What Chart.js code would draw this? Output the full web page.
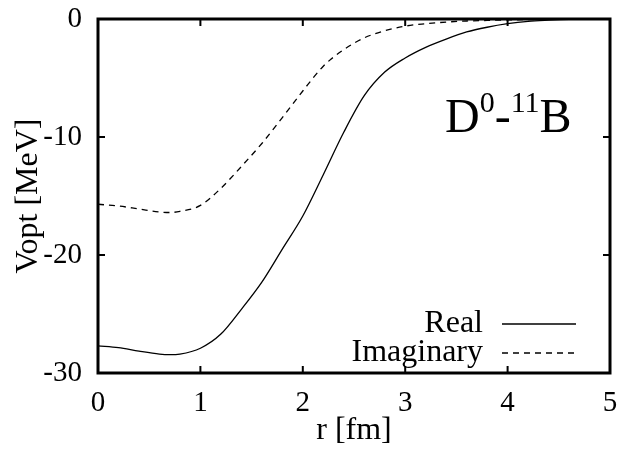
<!DOCTYPE html>
<html>
<head>
<meta charset="utf-8">
<script src="https://cdn.jsdelivr.net/npm/chart.js@4/dist/chart.umd.min.js"></script>
<style>
  html, body { margin: 0; padding: 0; background: #fff; overflow: hidden; }
</style>
</head>
<body>
<canvas id="vopt" width="618" height="452"></canvas>
<script>
"use strict";
// r [fm]
const radius = [0, 0.2, 0.4, 0.6, 0.7, 0.8, 1.0, 1.2, 1.4, 1.6, 1.8, 2.0, 2.2, 2.4, 2.6, 2.8, 3.0, 3.2, 3.4, 3.6, 3.8, 4.0, 4.2, 4.4, 4.6, 5.0];
const realPart = [-27.7, -27.85, -28.15, -28.4, -28.45, -28.4, -27.9, -26.7, -24.6, -22.3, -19.5, -16.7, -13.2, -9.6, -6.5, -4.5, -3.3, -2.4, -1.7, -1.1, -0.7, -0.4, -0.2, -0.1, -0.03, 0];
const imagPart = [-15.7, -15.85, -16.1, -16.35, -16.4, -16.3, -15.8, -14.35, -12.5, -10.55, -8.35, -6.1, -4.0, -2.6, -1.6, -1.0, -0.6, -0.4, -0.26, -0.17, -0.12, -0.08, -0.05, -0.03, -0.01, 0];
const seriesNames = ['Real', 'Imaginary'];
const xTicks = [0, 1, 2, 3, 4, 5];
const yTicks = [-30, -20, -10, 0];

const serif = '"Liberation Serif", "Times New Roman", serif';

function toPoints(values) {
    return radius.map((r, i) => ({ x: r, y: values[i] }));
}

// gnuplot style frame, inward ticks, legend and label
const framePlugin = {
    id: 'frame',
    afterDatasetsDraw(chart) {
        const ctx = chart.ctx;
        const area = chart.chartArea;
        const xs = chart.scales.x;
        const ys = chart.scales.y;
        ctx.save();
        ctx.strokeStyle = '#000';
        ctx.lineWidth = 3;
        ctx.strokeRect(area.left, area.top, area.right - area.left, area.bottom - area.top);
        ctx.lineWidth = 2;
        const tick = 7;
        ctx.beginPath();
        xTicks.forEach((v) => {
            const px = xs.getPixelForValue(v);
            ctx.moveTo(px, area.bottom);
            ctx.lineTo(px, area.bottom - tick);
            ctx.moveTo(px, area.top);
            ctx.lineTo(px, area.top + tick);
        });
        yTicks.forEach((v) => {
            const py = ys.getPixelForValue(v);
            ctx.moveTo(area.left, py);
            ctx.lineTo(area.left + tick, py);
            ctx.moveTo(area.right, py);
            ctx.lineTo(area.right - tick, py);
        });
        ctx.stroke();

        // legend
        ctx.font = '32px ' + serif;
        ctx.fillStyle = '#000';
        ctx.textAlign = 'right';
        ctx.textBaseline = 'middle';
        const legX = area.right - 127;
        const rows = [area.bottom - 49, area.bottom - 20];
        chart.data.datasets.forEach((ds, i) => {
            ctx.fillText(ds.label, legX, rows[i]);
            ctx.beginPath();
            ctx.lineWidth = 1.3;
            ctx.setLineDash(ds.borderDash || []);
            ctx.moveTo(legX + 19, rows[i]);
            ctx.lineTo(legX + 93, rows[i]);
            ctx.stroke();
        });
        ctx.setLineDash([]);

        // D0-11B label
        ctx.textAlign = 'left';
        ctx.textBaseline = 'alphabetic';
        let x = 445;
        const base = 132;
        const parts = [['D', 48, 0], ['0', 30, -20], ['-', 48, 0], ['11', 30, -20], ['B', 48, 0]];
        parts.forEach((p) => {
            ctx.font = p[1] + 'px ' + serif;
            ctx.fillText(p[0], x, base + p[2]);
            x += ctx.measureText(p[0]).width;
        });
        ctx.restore();
    }
};

const chart = new Chart(document.getElementById('vopt'), {
    type: 'line',
    data: {
        datasets: [
            {
                label: seriesNames[0],
                data: toPoints(realPart),
                borderColor: '#000',
                borderWidth: 1.3,
                pointRadius: 0,
                cubicInterpolationMode: 'monotone',
                fill: false
            },
            {
                label: seriesNames[1],
                data: toPoints(imagPart),
                borderColor: '#000',
                borderWidth: 1.3,
                borderDash: [6, 5],
                pointRadius: 0,
                cubicInterpolationMode: 'monotone',
                fill: false
            }
        ]
    },
    options: {
        responsive: false,
        animation: false,
        layout: { padding: { top: 19, right: 8, left: 0, bottom: 0 } },
        plugins: { legend: { display: false }, tooltip: { enabled: false } },
        scales: {
            x: {
                type: 'linear',
                min: 0,
                max: 5,
                afterBuildTicks(scale) { scale.ticks = xTicks.map(v => ({ value: v })); },
                afterFit(scale) { scale.height = 79; scale.paddingLeft = 0; scale.paddingRight = 0; },
                grid: { display: false, drawTicks: false },
                border: { display: false },
                ticks: { color: '#000', padding: 13, font: { family: serif, size: 29 } },
                title: { display: true, text: 'r [fm]', color: '#000', padding: { top: 0, bottom: 2 }, font: { family: serif, size: 32 } }
            },
            y: {
                min: -30,
                max: 0,
                afterBuildTicks(scale) { scale.ticks = yTicks.map(v => ({ value: v })); },
                afterFit(scale) { scale.width = 98; scale.paddingTop = 0; scale.paddingBottom = 0; },
                grid: { display: false, drawTicks: false },
                border: { display: false },
                ticks: { color: '#000', padding: 16, font: { family: serif, size: 29 } },
                title: { display: true, text: 'Vopt [MeV]', color: '#000', padding: { top: 9, bottom: 0 }, font: { family: serif, size: 32 } }
            }
        }
    },
    plugins: [framePlugin]
});
</script>
</body>
</html>
